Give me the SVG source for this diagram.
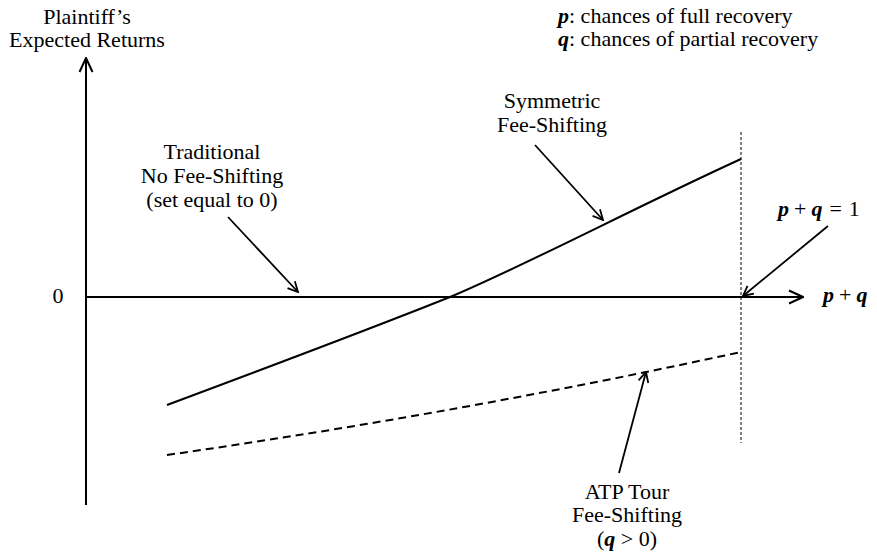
<svg xmlns="http://www.w3.org/2000/svg" width="877" height="553" viewBox="0 0 877 553">
<defs>
<style>
text{font-family:"Liberation Serif","Times New Roman",serif;font-size:22px;fill:#000}
.m{font-style:italic;font-weight:bold;font-size:22px}
.c{text-anchor:middle}
.ln{stroke:#000;fill:none;stroke-width:2}
.ar{stroke:#000;fill:none;stroke-width:1.8}
</style>
<marker id="ah" viewBox="0 0 12 12" refX="11" refY="6" markerWidth="12" markerHeight="12" markerUnits="userSpaceOnUse" orient="auto">
<path d="M1,1 L11,6 L1,11" fill="none" stroke="#000" stroke-width="1.8"/>
</marker>
<marker id="axh" viewBox="0 0 16 16" refX="15" refY="8" markerWidth="16" markerHeight="16" markerUnits="userSpaceOnUse" orient="auto">
<path d="M1,1.5 L15,8 L1,14.5" fill="none" stroke="#000" stroke-width="2"/>
</marker>
</defs>
<rect width="877" height="553" fill="#fff"/>
<g id="axes">
<line class="ln" x1="86" y1="505" x2="86" y2="58" marker-end="url(#axh)"/>
<line class="ln" x1="86" y1="297" x2="803" y2="297" marker-end="url(#axh)"/>
<line x1="741" y1="132" x2="741" y2="443" stroke="#000" stroke-width="1" stroke-dasharray="3,2"/>
</g>
<g id="curves">
<path id="symmetric" class="ln" d="M167,405 C250,374 380,325 450,297 C520,268 640,205 741,159"/>
<path id="atp" class="ln" d="M167,455 Q460,413 741,352" stroke-dasharray="8,5"/>
</g>
<g id="connectors">
<line class="ar" x1="228" y1="217" x2="298" y2="292" marker-end="url(#ah)"/>
<line class="ar" x1="535" y1="145" x2="603" y2="220" marker-end="url(#ah)"/>
<line class="ar" x1="619" y1="473" x2="646" y2="372" marker-end="url(#ah)"/>
<line class="ar" x1="828" y1="226" x2="743" y2="296" marker-end="url(#ah)"/>
</g>
<g id="ylabel">
<text class="c" x="87" y="24">Plaintiff’s</text>
<text class="c" x="87" y="47">Expected Returns</text>
</g>
<g id="legend">
<text x="558" y="23" font-size="21"><tspan class="m">p</tspan>: chances of full recovery</text>
<text x="558" y="46" font-size="21"><tspan class="m">q</tspan>: chances of partial recovery</text>
</g>
<g id="zero"><text class="c" x="58" y="303">0</text></g>
<g id="xlabel"><text x="823" y="302"><tspan class="m">p</tspan><tspan dx="5">+</tspan><tspan class="m" dx="5">q</tspan></text></g>
<g id="pq1"><text x="778" y="216"><tspan class="m">p</tspan><tspan dx="5">+</tspan><tspan class="m" dx="5">q</tspan><tspan dx="7">=</tspan><tspan dx="7">1</tspan></text></g>
<g id="traditional">
<text class="c" x="212" y="159">Traditional</text>
<text class="c" x="212" y="183">No Fee-Shifting</text>
<text class="c" x="212" y="207">(set equal to 0)</text>
</g>
<g id="symm">
<text class="c" x="552" y="108">Symmetric</text>
<text class="c" x="552" y="132">Fee-Shifting</text>
</g>
<g id="atplabel">
<text class="c" x="627" y="499">ATP Tour</text>
<text class="c" x="627" y="522">Fee-Shifting</text>
<text class="c" x="627" y="546">(<tspan class="m">q</tspan> &gt; 0)</text>
</g>
</svg>
